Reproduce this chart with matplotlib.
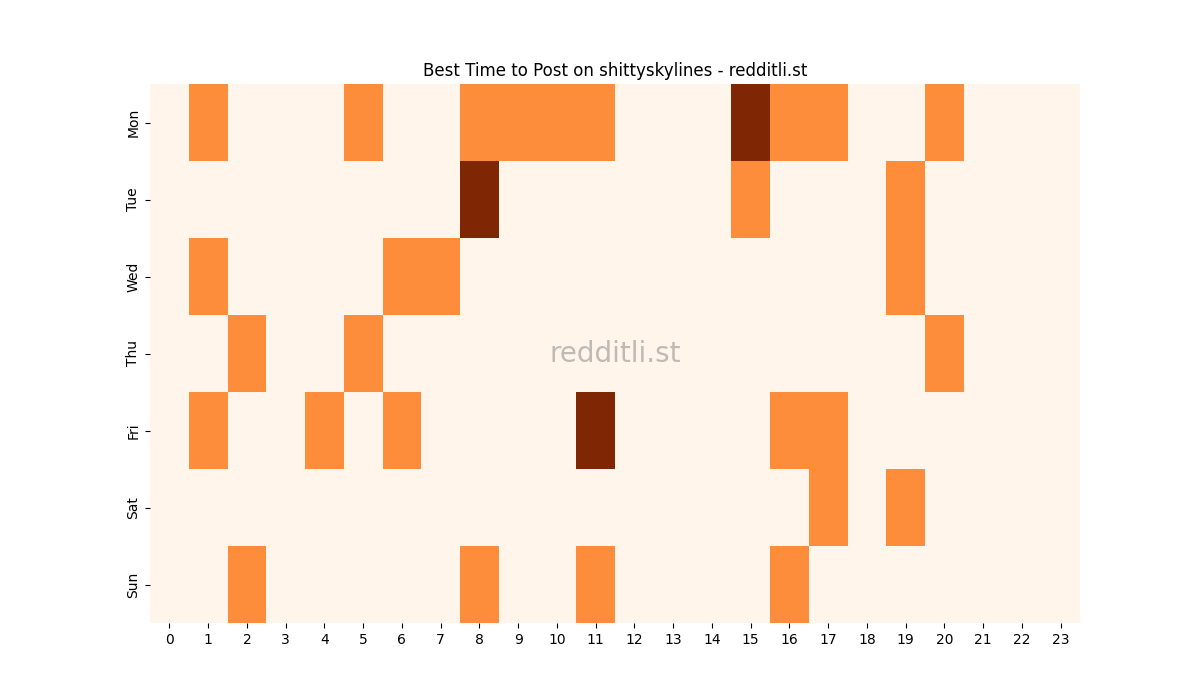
import matplotlib
matplotlib.use("Agg")
import matplotlib.pyplot as plt
import seaborn as sns
import numpy as np

days = ["Mon", "Tue", "Wed", "Thu", "Fri", "Sat", "Sun"]
hours = [str(h) for h in range(24)]
mon = [0,1,0,0,0,1,0,0,1,1,1,1,0,0,0,2,1,1,0,0,1,0,0,0]
tue = [0,0,0,0,0,0,0,0,2,0,0,0,0,0,0,1,0,0,0,1,0,0,0,0]
wed = [0,1,0,0,0,0,1,1,0,0,0,0,0,0,0,0,0,0,0,1,0,0,0,0]
thu = [0,0,1,0,0,1,0,0,0,0,0,0,0,0,0,0,0,0,0,0,1,0,0,0]
fri = [0,1,0,0,1,0,1,0,0,0,0,2,0,0,0,0,1,1,0,0,0,0,0,0]
sat = [0,0,0,0,0,0,0,0,0,0,0,0,0,0,0,0,0,1,0,1,0,0,0,0]
sun = [0,0,1,0,0,0,0,0,1,0,0,1,0,0,0,0,1,0,0,0,0,0,0,0]
data = np.array([mon, tue, wed, thu, fri, sat, sun])

fig, ax = plt.subplots(figsize=(12, 7), dpi=100)
sns.heatmap(data, ax=ax, cmap="Oranges", vmin=0, vmax=2, cbar=False,
            xticklabels=hours, yticklabels=days)
ax.set_yticklabels(days, rotation=90, va="center")
ax.set_xticklabels(hours, rotation=0)
ax.set_title("Best Time to Post on shittyskylines - redditli.st")
ax.text(0.5, 0.5, "redditli.st", transform=ax.transAxes, ha="center", va="center",
        fontsize=20, color="gray", alpha=0.5)
fig.savefig("out.png")
